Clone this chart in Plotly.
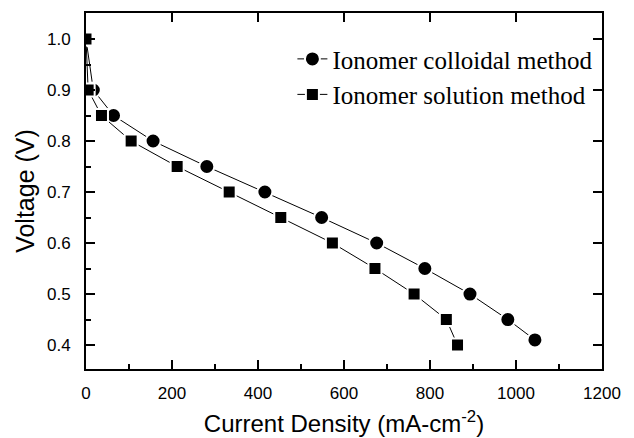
import plotly.graph_objects as go

# Data
colloidal_x = [0, 17, 64, 156, 281, 416, 548, 676, 788, 893, 981, 1044]
colloidal_y = [1.0, 0.9, 0.85, 0.8, 0.75, 0.7, 0.65, 0.6, 0.55, 0.5, 0.45, 0.41]
solution_x = [0, 5, 36, 105, 212, 333, 453, 573, 672, 763, 838, 864]
solution_y = [1.0, 0.9, 0.85, 0.8, 0.75, 0.7, 0.65, 0.6, 0.55, 0.5, 0.45, 0.4]

x_ticks = [0, 200, 400, 600, 800, 1000, 1200]
y_ticks = [0.4, 0.5, 0.6, 0.7, 0.8, 0.9, 1.0]
x_range = [0, 1200]
y_range = [0.353, 1.051]

fig = go.Figure()
fig.add_trace(go.Scatter(
    x=colloidal_x, y=colloidal_y, mode="lines+markers",
    name="Ionomer colloidal method",
    line=dict(color="black", width=1),
    marker=dict(symbol="circle", size=15, color="black", line=dict(color="white", width=2)),
))
fig.add_trace(go.Scatter(
    x=solution_x, y=solution_y, mode="lines+markers",
    name="Ionomer solution method",
    line=dict(color="black", width=1),
    marker=dict(symbol="square", size=13, color="black", line=dict(color="white", width=2)),
))
# dummy trace to bind mirror axes (top/right, major ticks only)
fig.add_trace(go.Scatter(x=[None], y=[None], xaxis="x2", yaxis="y2",
                         showlegend=False, hoverinfo="skip"))

axis_common = dict(showgrid=False, zeroline=False, showline=True, linecolor="black",
                   linewidth=2, ticks="inside", ticklen=9, tickwidth=2, tickcolor="black",
                   automargin=False)

fig.update_layout(
    width=634, height=438,
    margin=dict(l=86, r=32, t=13, b=69),
    paper_bgcolor="white", plot_bgcolor="white",
    font=dict(family="Liberation Sans, Arial, sans-serif", color="black"),
    xaxis=dict(range=x_range, tickvals=x_ticks, ticktext=[str(v) for v in x_ticks],
               tickfont=dict(size=17), ticklabelstandoff=8,
               minor=dict(ticks="inside", ticklen=5, tickwidth=2, tickcolor="black", dtick=100),
               title=dict(text="Current Density (mA-cm<sup>-2</sup>)", font=dict(size=24), standoff=13),
               **axis_common),
    yaxis=dict(range=y_range, tickvals=y_ticks, ticktext=[f"{v:.1f}" for v in y_ticks],
               tickfont=dict(size=17), ticklabelstandoff=10,
               minor=dict(ticks="inside", ticklen=5, tickwidth=2, tickcolor="black", dtick=0.05, tick0=0.4),
               title=dict(text="Voltage (V)", font=dict(size=25), standoff=5),
               **axis_common),
    xaxis2=dict(range=x_range, tickvals=x_ticks, overlaying="x", side="top",
                showticklabels=False, **axis_common),
    yaxis2=dict(range=y_range, tickvals=y_ticks, overlaying="y", side="right",
                showticklabels=False, **axis_common),
    legend=dict(x=0.40, y=0.935, xanchor="left", yanchor="top",
                font=dict(family="Liberation Serif, Times New Roman, serif", size=25),
                bgcolor="rgba(0,0,0,0)", tracegroupgap=0, itemwidth=30),
    showlegend=True,
)

fig.write_html("out.html")
